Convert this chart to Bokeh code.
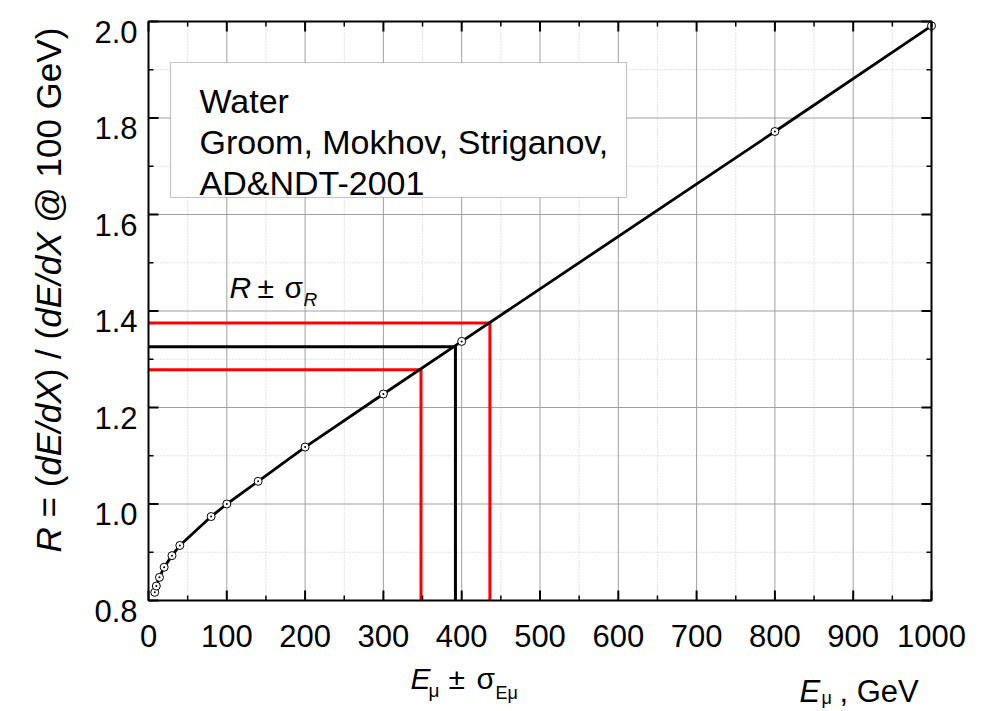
import numpy as np
from bokeh.plotting import figure
from bokeh.models import Range1d, Label, BoxAnnotation
from bokeh.core.properties import value
from bokeh.embed import file_html
from bokeh.resources import INLINE

# ---------------- data ----------------
energy_gev = [8, 10, 14, 20, 30, 40, 80, 100, 140, 200, 300, 400, 800, 1000]
ratio_r = [0.817, 0.830, 0.848, 0.869, 0.893, 0.914, 0.974, 1.000, 1.047, 1.118,
           1.228, 1.337, 1.772, 1.991]

# example reading: E - sigma, E, E + sigma  and the matching R values
example_e = [348, 392, 436]
example_r = [1.278, 1.326, 1.375]
example_colors = ["#ff0000", "#000000", "#ff0000"]

x_ticks = [0, 100, 200, 300, 400, 500, 600, 700, 800, 900, 1000]
x_tick_labels = ["0", "100", "200", "300", "400", "500", "600", "700", "800", "900", "1000"]
y_ticks = [0.8, 1.0, 1.2, 1.4, 1.6, 1.8, 2.0]
y_tick_labels = ["0.8", "1.0", "1.2", "1.4", "1.6", "1.8", "2.0"]
legend_lines = ["Water", "Groom, Mokhov, Striganov,", "AD&NDT-2001"]

X0, X1 = x_ticks[0], x_ticks[-1]
Y0, Y1 = y_ticks[0], y_ticks[-1]

# ---------------- layout (pixels) ----------------
W, H = 983, 711
FL, FT, FW, FH = 148, 21, 783, 579      # plot frame inside the canvas
FONT = "Liberation Sans"
ux = (X1 - X0) / FW                      # data units per pixel
uy = (Y1 - Y0) / FH


def dx(px):
    return X0 + (px - FL) * ux


def dy(py):
    return Y0 + (FT + FH - py) * uy


p = figure(width=W, height=H,
           x_range=Range1d(dx(0), dx(W)), y_range=Range1d(dy(H), dy(0)),
           x_axis_type=None, y_axis_type=None, min_border=0,
           output_backend="svg", toolbar_location=None,
           background_fill_color="white", border_fill_color="white",
           outline_line_color=None)

x_minor = list((np.array(x_ticks[:-1]) + np.array(x_ticks[1:])) / 2)
y_minor = list((np.array(y_ticks[:-1]) + np.array(y_ticks[1:])) / 2)
x_inner = x_ticks[1:-1]
y_inner = y_ticks[1:-1]

# ---------------- grid ----------------
GRID = "#a0a0a0"
MINOR = "#c8c8c8"
p.segment(x0=x_minor, y0=Y0, x1=x_minor, y1=Y1, line_color=MINOR, line_width=1,
          line_dash="1 2")
p.segment(x0=X0, y0=y_minor, x1=X1, y1=y_minor, line_color=MINOR, line_width=1,
          line_dash="1 2")
p.segment(x0=x_inner, y0=Y0, x1=x_inner, y1=Y1, line_color=GRID, line_width=1)
p.segment(x0=X0, y0=y_inner, x1=X1, y1=y_inner, line_color=GRID, line_width=1)

# ---------------- example brackets ----------------
p.multi_line(xs=[[X0, e, e] for e in example_e],
             ys=[[r, r, Y0] for r in example_r],
             line_color=example_colors, line_width=3, line_join="miter")

# ---------------- curve and points ----------------
p.line(energy_gev, ratio_r, line_color="black", line_width=2.8)
p.scatter(energy_gev, ratio_r, marker="circle_dot", size=8, fill_color="white",
          line_color="black", line_width=1)

# ---------------- frame and ticks (all four sides, inward) ----------------
p.quad(left=X0, right=X1, bottom=Y0, top=Y1, fill_color=None,
       line_color="black", line_width=2)
MAJ, MIN = 10, 5
for ticks, ln, lw in ((x_ticks, MAJ, 2), (x_minor, MIN, 1.5)):
    p.segment(x0=ticks, y0=Y0, x1=ticks, y1=Y0 + ln * uy, line_color="black", line_width=lw)
    p.segment(x0=ticks, y0=Y1, x1=ticks, y1=Y1 - ln * uy, line_color="black", line_width=lw)
for ticks, ln, lw in ((y_ticks, MAJ, 2), (y_minor, MIN, 1.5)):
    p.segment(x0=X0, y0=ticks, x1=X0 + ln * ux, y1=ticks, line_color="black", line_width=lw)
    p.segment(x0=X1, y0=ticks, x1=X1 - ln * ux, y1=ticks, line_color="black", line_width=lw)

# tick labels
TICK_SIZE = "31px"
p.text(x=x_ticks, y=Y0 - 35 * uy, text=x_tick_labels, text_font=value(FONT),
       text_font_size=value(TICK_SIZE), text_align="center", text_baseline="alphabetic",
       text_color="black")
p.text(x=X0 - 11 * ux, y=[t - 10 * uy for t in y_ticks], text=y_tick_labels,
       text_font=value(FONT), text_font_size=value(TICK_SIZE), text_align="right",
       text_baseline="alphabetic", text_color="black")

# ---------------- legend box ----------------
p.add_layout(BoxAnnotation(left=dx(170), right=dx(626), top=dy(62), bottom=dy(197),
                           fill_color="white", fill_alpha=1.0,
                           line_color="#404040", line_width=1.2))


def lab(px, py, text, size, italic=False, angle=0.0, align="left"):
    p.add_layout(Label(x=dx(px), y=dy(py), text=text, text_font=FONT,
                       text_font_size=f"{size}px",
                       text_font_style="italic" if italic else "normal",
                       text_color="black", text_align=align,
                       text_baseline="alphabetic", angle=angle))


for i, line in enumerate(legend_lines):
    lab(199, 100 + 41 * i, line, 34)

# R +- sigma_R
lab(229, 287, "R", 30, italic=True)
lab(257, 287, "±", 30)
lab(284, 287, "σ", 30)
lab(303, 299, "R", 19, italic=True)

# x axis labels
lab(410, 678, "E", 30, italic=True)
lab(428, 690, "μ", 19)
lab(448, 678, "±", 30)
lab(476, 678, "σ", 30)
lab(495, 692, "Eμ", 18)

lab(799, 691, "E", 31, italic=True)
lab(821, 697, "μ", 18)
lab(839, 691, ", GeV", 31)

# y axis label (rotated), pieces with start offsets in em
YS = 35
ystart = 552
ypieces = [("R", True, 0.0), ("= (", False, 1.0), ("dE/dX", True, 2.195),
           (") / (", False, 4.919), ("dE/dX", True, 6.419), ("@ 100 GeV)", False, 9.421)]
for txt, it, off in ypieces:
    lab(48, ystart - off * YS, txt, YS, italic=it, angle=np.pi / 2)

open("out.html", "w").write(file_html(p, INLINE))
